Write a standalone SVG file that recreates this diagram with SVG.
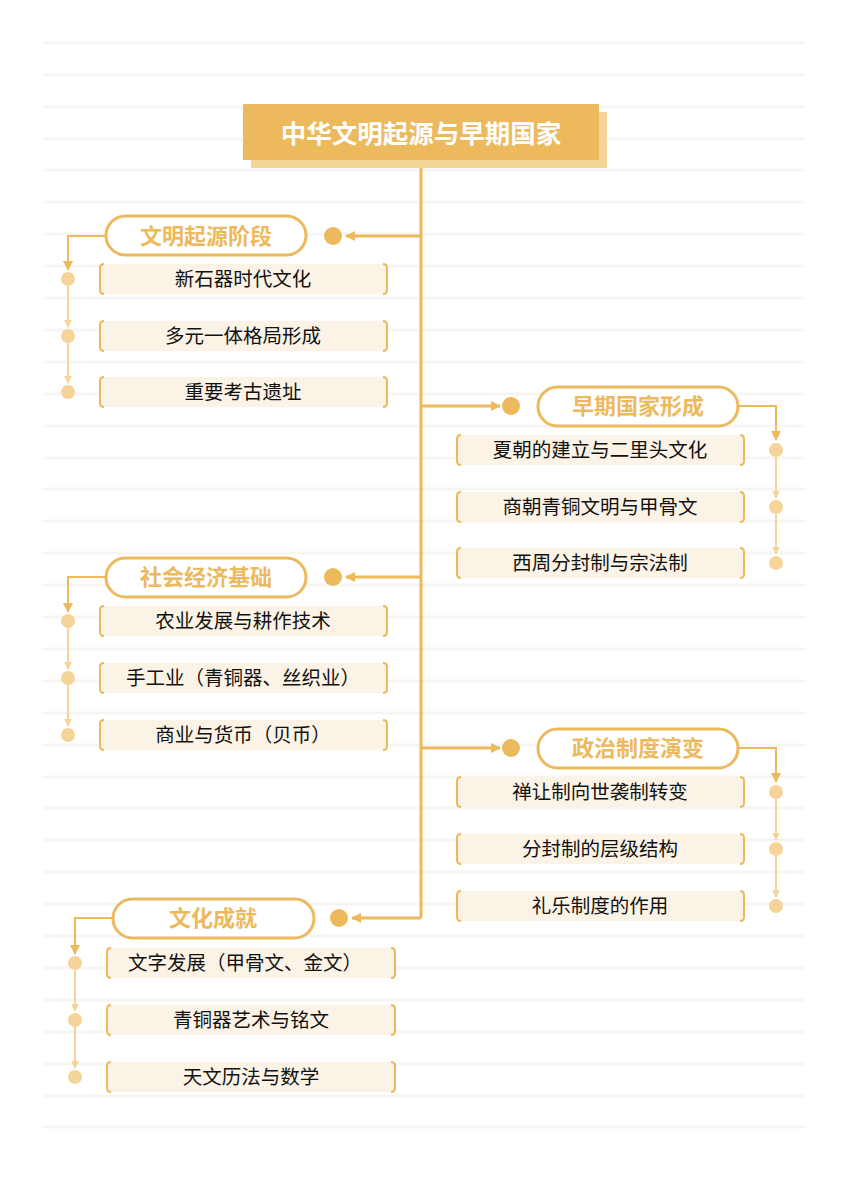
<svg xmlns="http://www.w3.org/2000/svg" width="848" height="1200" viewBox="0 0 848 1200">
<defs>
<style>
.bg{stroke:#f7f5f2;stroke-width:3}
.main{stroke:#ecb95c;stroke-width:3;fill:none}
.sub{stroke:#f5d49a;stroke-width:2;fill:none}
.pill{fill:#fff;stroke:#ecb95c;stroke-width:3}
.pt{font-family:"Noto Sans CJK SC",sans-serif;font-weight:bold;font-size:22px;fill:#ecb95c;text-anchor:middle}
.ct{font-family:"Noto Sans CJK SC",sans-serif;font-size:19.5px;fill:#111;text-anchor:middle}
.box{fill:#fbf3e6}
.br{stroke:#ecb95c;stroke-width:2;fill:none}
.dot{fill:#ecb95c}
.sdot{fill:#f5d49a}
</style>
<marker id="a" viewBox="0 0 10 10" refX="9" refY="5" markerWidth="10" markerHeight="10" markerUnits="userSpaceOnUse" orient="auto"><path d="M0,0 L10,5 L0,10 z" fill="#ecb95c"/></marker>
<marker id="s" viewBox="0 0 10 10" refX="9" refY="5" markerWidth="8" markerHeight="8" markerUnits="userSpaceOnUse" orient="auto"><path d="M0,0 L10,5 L0,10 z" fill="#f5d49a"/></marker>
</defs>
<rect width="848" height="1200" fill="#fff"/>
<g id="bg">
<path class="bg" d="M43,43H805M43,75H805M43,107H805M43,139H805M43,170H805M43,202H805M43,234H805M43,266H805M43,298H805M43,330H805M43,362H805M43,394H805M43,426H805M43,458H805M43,489H805M43,521H805M43,553H805M43,585H805M43,617H805M43,649H805M43,681H805M43,713H805M43,745H805M43,777H805M43,808H805M43,840H805M43,872H805M43,904H805M43,936H805M43,968H805M43,1000H805M43,1032H805M43,1064H805M43,1096H805M43,1127H805"/>
</g>
<g id="connectors">
<path class="main" d="M421,160V918"/>
<path class="main" d="M421,236H346" marker-end="url(#a)"/>
<path class="main" d="M421,406H500" marker-end="url(#a)"/>
<path class="main" d="M421,577H346" marker-end="url(#a)"/>
<path class="main" d="M421,748H500" marker-end="url(#a)"/>
<path class="main" d="M421,918H352" marker-end="url(#a)"/>
<path class="br" d="M106,236H68V270" marker-end="url(#a)"/>
<path class="br" d="M738,406H776V440" marker-end="url(#a)"/>
<path class="br" d="M106,577H68V612" marker-end="url(#a)"/>
<path class="br" d="M738,748H776V782" marker-end="url(#a)"/>
<path class="br" d="M113,918H75V954" marker-end="url(#a)"/>
<path class="sub" d="M68,286V327M68,343V383" marker-end="url(#s)"/>
<path class="sub" d="M68,286V327" marker-end="url(#s)"/>
<path class="sub" d="M776,457V498M776,514V554" marker-end="url(#s)"/>
<path class="sub" d="M776,457V498" marker-end="url(#s)"/>
<path class="sub" d="M68,628V669M68,685V726" marker-end="url(#s)"/>
<path class="sub" d="M68,628V669" marker-end="url(#s)"/>
<path class="sub" d="M776,799V840M776,856V897" marker-end="url(#s)"/>
<path class="sub" d="M776,799V840" marker-end="url(#s)"/>
<path class="sub" d="M75,970V1011M75,1027V1068" marker-end="url(#s)"/>
<path class="sub" d="M75,970V1011" marker-end="url(#s)"/>
</g>
<g id="title">
<rect x="251" y="112" width="356" height="56" fill="#f5d49a"/>
<rect x="243" y="104" width="356" height="56" fill="#ecb95c"/>
<text x="421" y="143" font-family="Noto Sans CJK SC,sans-serif" font-weight="bold" font-size="25.5" fill="#fff" text-anchor="middle">中华文明起源与早期国家</text>
</g>
<g id="n1"><circle class="dot" cx="333" cy="236" r="9"/><rect class="pill" x="106" y="216" width="200" height="39" rx="19.5"/><text class="pt" x="206" y="244">文明起源阶段</text></g>
<g id="n2"><circle class="dot" cx="511" cy="406" r="9"/><rect class="pill" x="538" y="387" width="200" height="39" rx="19.5"/><text class="pt" x="638" y="414">早期国家形成</text></g>
<g id="n3"><circle class="dot" cx="333" cy="577" r="9"/><rect class="pill" x="106" y="558" width="200" height="39" rx="19.5"/><text class="pt" x="206" y="585">社会经济基础</text></g>
<g id="n4"><circle class="dot" cx="511" cy="748" r="9"/><rect class="pill" x="538" y="729" width="200" height="39" rx="19.5"/><text class="pt" x="638" y="756">政治制度演变</text></g>
<g id="n5"><circle class="dot" cx="339" cy="918" r="9"/><rect class="pill" x="113" y="899" width="201" height="39" rx="19.5"/><text class="pt" x="213" y="926">文化成就</text></g>
<g id="c1a"><circle class="sdot" cx="68" cy="279" r="7"/><rect class="box" x="100" y="264" width="287" height="30"/><path class="br" d="M104,264Q100,264 100,268V290Q100,294 104,294M383,264Q387,264 387,268V290Q387,294 383,294"/><text class="ct" x="243" y="286">新石器时代文化</text></g>
<g id="c1b"><circle class="sdot" cx="68" cy="336" r="7"/><rect class="box" x="100" y="321" width="287" height="30"/><path class="br" d="M104,321Q100,321 100,325V347Q100,351 104,351M383,321Q387,321 387,325V347Q387,351 383,351"/><text class="ct" x="243" y="343">多元一体格局形成</text></g>
<g id="c1c"><circle class="sdot" cx="68" cy="392" r="7"/><rect class="box" x="100" y="377" width="287" height="30"/><path class="br" d="M104,377Q100,377 100,381V403Q100,407 104,407M383,377Q387,377 387,381V403Q387,407 383,407"/><text class="ct" x="243" y="399">重要考古遗址</text></g>
<g id="c2a"><circle class="sdot" cx="776" cy="450" r="7"/><rect class="box" x="457" y="435" width="287" height="30"/><path class="br" d="M461,435Q457,435 457,439V461Q457,465 461,465M740,435Q744,435 744,439V461Q744,465 740,465"/><text class="ct" x="600" y="457">夏朝的建立与二里头文化</text></g>
<g id="c2b"><circle class="sdot" cx="776" cy="507" r="7"/><rect class="box" x="457" y="492" width="287" height="30"/><path class="br" d="M461,492Q457,492 457,496V518Q457,522 461,522M740,492Q744,492 744,496V518Q744,522 740,522"/><text class="ct" x="600" y="514">商朝青铜文明与甲骨文</text></g>
<g id="c2c"><circle class="sdot" cx="776" cy="563" r="7"/><rect class="box" x="457" y="548" width="287" height="30"/><path class="br" d="M461,548Q457,548 457,552V574Q457,578 461,578M740,548Q744,548 744,552V574Q744,578 740,578"/><text class="ct" x="600" y="570">西周分封制与宗法制</text></g>
<g id="c3a"><circle class="sdot" cx="68" cy="621" r="7"/><rect class="box" x="100" y="606" width="287" height="30"/><path class="br" d="M104,606Q100,606 100,610V632Q100,636 104,636M383,606Q387,606 387,610V632Q387,636 383,636"/><text class="ct" x="243" y="628">农业发展与耕作技术</text></g>
<g id="c3b"><circle class="sdot" cx="68" cy="678" r="7"/><rect class="box" x="100" y="663" width="287" height="30"/><path class="br" d="M104,663Q100,663 100,667V689Q100,693 104,693M383,663Q387,663 387,667V689Q387,693 383,693"/><text class="ct" x="243" y="685">手工业（青铜器、丝织业）</text></g>
<g id="c3c"><circle class="sdot" cx="68" cy="735" r="7"/><rect class="box" x="100" y="720" width="287" height="30"/><path class="br" d="M104,720Q100,720 100,724V746Q100,750 104,750M383,720Q387,720 387,724V746Q387,750 383,750"/><text class="ct" x="243" y="742">商业与货币（贝币）</text></g>
<g id="c4a"><circle class="sdot" cx="776" cy="792" r="7"/><rect class="box" x="457" y="777" width="287" height="30"/><path class="br" d="M461,777Q457,777 457,781V803Q457,807 461,807M740,777Q744,777 744,781V803Q744,807 740,807"/><text class="ct" x="600" y="799">禅让制向世袭制转变</text></g>
<g id="c4b"><circle class="sdot" cx="776" cy="849" r="7"/><rect class="box" x="457" y="834" width="287" height="30"/><path class="br" d="M461,834Q457,834 457,838V860Q457,864 461,864M740,834Q744,834 744,838V860Q744,864 740,864"/><text class="ct" x="600" y="856">分封制的层级结构</text></g>
<g id="c4c"><circle class="sdot" cx="776" cy="906" r="7"/><rect class="box" x="457" y="891" width="287" height="30"/><path class="br" d="M461,891Q457,891 457,895V917Q457,921 461,921M740,891Q744,891 744,895V917Q744,921 740,921"/><text class="ct" x="600" y="913">礼乐制度的作用</text></g>
<g id="c5a"><circle class="sdot" cx="75" cy="963" r="7"/><rect class="box" x="107" y="948" width="288" height="30"/><path class="br" d="M111,948Q107,948 107,952V974Q107,978 111,978M391,948Q395,948 395,952V974Q395,978 391,978"/><text class="ct" x="245" y="970">文字发展（甲骨文、金文）</text></g>
<g id="c5b"><circle class="sdot" cx="75" cy="1020" r="7"/><rect class="box" x="107" y="1005" width="288" height="30"/><path class="br" d="M111,1005Q107,1005 107,1009V1031Q107,1035 111,1035M391,1005Q395,1005 395,1009V1031Q395,1035 391,1035"/><text class="ct" x="251" y="1027">青铜器艺术与铭文</text></g>
<g id="c5c"><circle class="sdot" cx="75" cy="1077" r="7"/><rect class="box" x="107" y="1062" width="288" height="30"/><path class="br" d="M111,1062Q107,1062 107,1066V1088Q107,1092 111,1092M391,1062Q395,1062 395,1066V1088Q395,1092 391,1092"/><text class="ct" x="251" y="1084">天文历法与数学</text></g>
</svg>
